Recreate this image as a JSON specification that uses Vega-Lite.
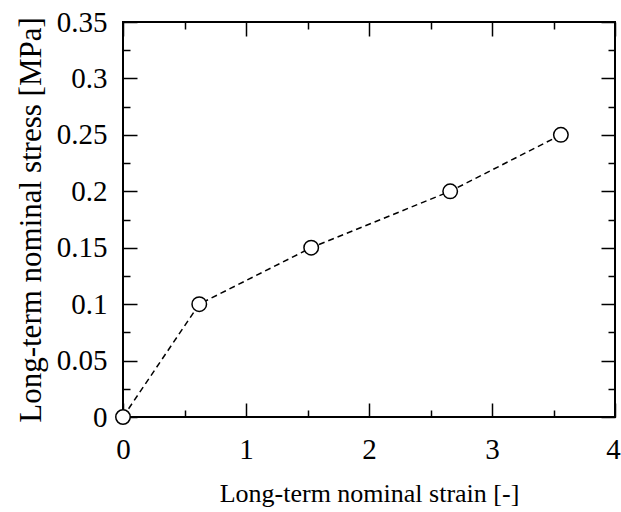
{
  "$schema": "https://vega.github.io/schema/vega-lite/v6.json",
  "width": 492,
  "height": 395,
  "autosize": "none",
  "padding": {"left": 123, "top": 22, "right": 6, "bottom": 95},
  "background": "white",
  "config": {
    "font": "Liberation Serif",
    "view": {"stroke": "black", "strokeWidth": 2},
    "axis": {
      "domain": false,
      "grid": false,
      "tickColor": "black",
      "tickWidth": 1.5,
      "labelFont": "Liberation Serif",
      "labelFontSize": 29,
      "labelColor": "black",
      "titleFont": "Liberation Serif",
      "titleFontSize": 26,
      "titleFontWeight": "normal",
      "titleColor": "black"
    }
  },
  "data": {
    "values": [
      {"strain": 0, "stress": 0},
      {"strain": 0.62, "stress": 0.1},
      {"strain": 1.53, "stress": 0.15},
      {"strain": 2.66, "stress": 0.2},
      {"strain": 3.56, "stress": 0.25}
    ]
  },
  "layer": [
    {
      "mark": {"type": "line", "color": "black", "strokeWidth": 1.5, "strokeDash": [6, 4]},
      "encoding": {
        "x": {
          "field": "strain", "type": "quantitative",
          "scale": {"domain": [0, 4], "nice": false, "zero": false},
          "axis": {
            "orient": "bottom",
            "title": "Long-term nominal strain [-]",
            "values": [0, 0.5, 1, 1.5, 2, 2.5, 3, 3.5, 4],
            "labelExpr": "datum.value % 1 === 0 ? datum.value + '' : ''",
            "tickSize": {"condition": {"test": "datum.value % 1 === 0", "value": -14}, "value": -7},
            "labelOffset": {"condition": {"test": "datum.value === 4", "value": -2}, "value": 0},
            "labelPadding": 32,
            "titlePadding": 16,
            "labelFlush": false
          }
        },
        "y": {
          "field": "stress", "type": "quantitative",
          "scale": {"domain": [0, 0.35], "nice": false, "zero": false},
          "axis": {
            "orient": "left",
            "title": "Long-term nominal stress [MPa]",
            "titleFontSize": 31,
            "values": [0, 0.025, 0.05, 0.075, 0.1, 0.125, 0.15, 0.175, 0.2, 0.225, 0.25, 0.275, 0.3, 0.325, 0.35],
            "labelExpr": "abs(datum.value * 20 - round(datum.value * 20)) < 0.001 ? datum.value + '' : ''",
            "tickSize": {"condition": {"test": "abs(datum.value * 20 - round(datum.value * 20)) < 0.001", "value": -14}, "value": -7},
            "labelPadding": 30,
            "titlePadding": 9,
            "labelFlush": false
          }
        }
      }
    },
    {
      "mark": {"type": "point", "shape": "circle", "filled": true, "fill": "white", "stroke": "black", "strokeWidth": 1.5, "size": 210, "opacity": 1},
      "encoding": {
        "x": {
          "field": "strain", "type": "quantitative",
          "scale": {"domain": [0, 4], "nice": false, "zero": false},
          "axis": {
            "orient": "top",
            "title": null,
            "values": [0, 0.5, 1, 1.5, 2, 2.5, 3, 3.5, 4],
            "labels": false,
            "tickSize": {"condition": {"test": "datum.value % 1 === 0", "value": -14}, "value": -7}
          }
        },
        "y": {
          "field": "stress", "type": "quantitative",
          "scale": {"domain": [0, 0.35], "nice": false, "zero": false},
          "axis": {
            "orient": "right",
            "title": null,
            "values": [0, 0.025, 0.05, 0.075, 0.1, 0.125, 0.15, 0.175, 0.2, 0.225, 0.25, 0.275, 0.3, 0.325, 0.35],
            "labels": false,
            "tickSize": {"condition": {"test": "abs(datum.value * 20 - round(datum.value * 20)) < 0.001", "value": -14}, "value": -7}
          }
        }
      }
    }
  ],
  "resolve": {"axis": {"x": "independent", "y": "independent"}}
}
